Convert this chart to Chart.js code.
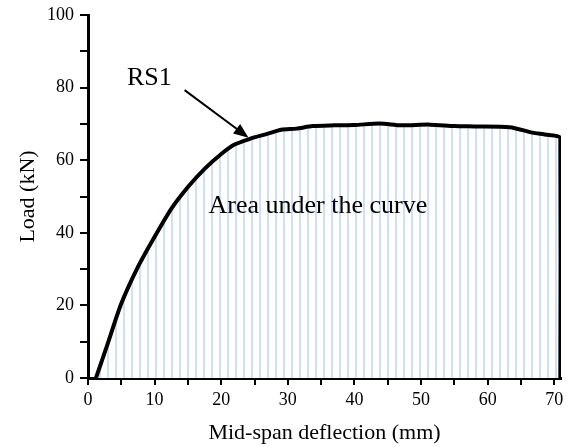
<!DOCTYPE html>
<html>
<head>
<meta charset="utf-8">
<script src="https://cdn.jsdelivr.net/npm/chart.js@4/dist/chart.umd.min.js"></script>
<style>
  html, body { margin: 0; padding: 0; background: #fff; }
  #wrap { width: 573px; height: 447px; }
</style>
</head>
<body>
<div id="wrap"><canvas id="c"></canvas></div>
<script>
// RS1 load–deflection curve
const deflection = [1.2, 3, 5, 7.5, 10, 12.5, 15, 17.5, 20, 22, 24.3, 27, 29, 31.3, 33.7, 37, 40, 43.8, 47, 51.3, 55, 58, 63.3, 66.7, 69, 70.9, 70.9];
const load       = [0, 9.7, 20.5, 30.6, 38.9, 46.6, 52.6, 57.6, 61.7, 64.3, 65.9, 67.3, 68.4, 68.7, 69.4, 69.6, 69.7, 70.1, 69.6, 69.8, 69.4, 69.3, 69.1, 67.6, 67, 66, 0];

const xTicks = [0, 5, 10, 15, 20, 25, 30, 35, 40, 45, 50, 55, 60, 65, 70];
const yTicks = [0, 10, 20, 30, 40, 50, 60, 70, 80, 90, 100];

// a single family only: font lists fall back to sans here
const FONT = '"Liberation Serif"';

// thin vertical light-blue stripes for the area under the curve
function stripePattern() {
  const p = document.createElement('canvas');
  p.width = 8; p.height = 4;
  const g = p.getContext('2d');
  g.fillStyle = '#ffffff';
  g.fillRect(0, 0, 8, 4);
  g.fillStyle = '#cfe1f5';
  g.fillRect(3, 0, 2, 4);
  return g.createPattern(p, 'repeat');
}

const notes = {
  id: 'notes',
  afterDatasetsDraw(chart) {
    const { ctx, scales: { x, y } } = chart;
    ctx.save();
    ctx.fillStyle = '#000';
    ctx.textAlign = 'center';
    ctx.textBaseline = 'middle';

    ctx.font = '26px ' + FONT;
    ctx.fillText('RS1', x.getPixelForValue(9.2), y.getPixelForValue(82.7));
    ctx.fillText('Area under the curve', x.getPixelForValue(34.5), y.getPixelForValue(47.3));

    // arrow pointing at the curve
    const x0 = x.getPixelForValue(14.5), y0 = y.getPixelForValue(79.3);
    const x1 = x.getPixelForValue(24.1), y1 = y.getPixelForValue(66.2);
    const ang = Math.atan2(y1 - y0, x1 - x0);
    const head = 16;
    ctx.strokeStyle = '#000';
    ctx.lineWidth = 2;
    ctx.beginPath();
    ctx.moveTo(x0, y0);
    ctx.lineTo(x1 - Math.cos(ang) * head * 0.8, y1 - Math.sin(ang) * head * 0.8);
    ctx.stroke();
    ctx.beginPath();
    ctx.moveTo(x1, y1);
    ctx.lineTo(x1 - head * Math.cos(ang - 0.38), y1 - head * Math.sin(ang - 0.38));
    ctx.lineTo(x1 - head * Math.cos(ang + 0.38), y1 - head * Math.sin(ang + 0.38));
    ctx.closePath();
    ctx.fill();
    ctx.restore();
  }
};

new Chart(document.getElementById('c'), {
  type: 'line',
  data: {
    datasets: [{
      data: deflection.map((d, i) => ({ x: d, y: load[i] })),
      borderColor: '#000',
      borderWidth: 4,
      pointRadius: 0,
      tension: 0.25,
      fill: 'origin',
      backgroundColor: stripePattern(),
    }],
  },
  options: {
    responsive: true, maintainAspectRatio: false, animation: false,
    layout: { padding: { top: 14, right: 12, left: 0, bottom: 0 } },
    plugins: { legend: { display: false }, tooltip: { enabled: false } },
    scales: {
      x: {
        type: 'linear', min: 0, max: 71,
        afterBuildTicks: s => { s.ticks = xTicks.map(v => ({ value: v })); },
        afterFit: s => { s.height = 69; },
        ticks: { color: '#000', font: { family: FONT, size: 18 }, padding: 4, maxRotation: 0,
                 callback: v => (v % 10 === 0 ? v : '') },
        grid: { drawOnChartArea: false, color: '#000', lineWidth: 2, tickLength: 7 },
        border: { color: '#000', width: 3 },
        title: { display: true, text: 'Mid-span deflection (mm)', color: '#000',
                 font: { family: FONT, size: 22 }, padding: { top: 0, bottom: 1 } },
      },
      y: {
        min: 0, max: 100,
        afterBuildTicks: s => { s.ticks = yTicks.map(v => ({ value: v })); },
        afterFit: s => { s.width = 88; },
        ticks: { color: '#000', font: { family: FONT, size: 18, lineHeight: 1 }, padding: 6,
                 callback: v => (v % 20 === 0 ? v : '') },
        grid: { drawOnChartArea: false, color: '#000', lineWidth: 2, tickLength: 8 },
        border: { color: '#000', width: 3 },
        title: { display: true, text: 'Load (kN)', color: '#000',
                 font: { family: FONT, size: 22 }, padding: { top: 15, bottom: 0 } },
      },
    },
  },
  plugins: [notes],
});
</script>
</body>
</html>
